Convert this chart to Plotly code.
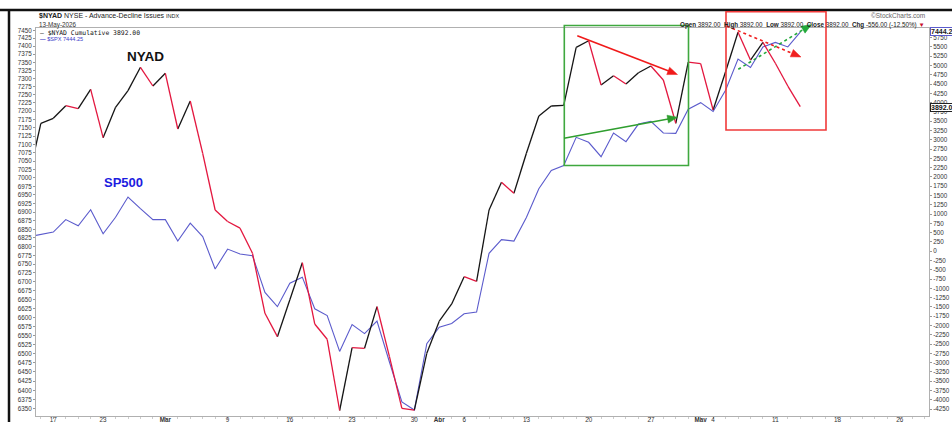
import math
import plotly.graph_objects as go

# ---------------- data ----------------
dates = [
    "2026-02-12", "2026-02-13", "2026-02-17", "2026-02-18", "2026-02-19", "2026-02-20",
    "2026-02-23", "2026-02-24", "2026-02-25", "2026-02-26", "2026-02-27",
    "2026-03-02", "2026-03-03", "2026-03-04", "2026-03-05", "2026-03-06",
    "2026-03-09", "2026-03-10", "2026-03-11", "2026-03-12", "2026-03-13",
    "2026-03-16", "2026-03-17", "2026-03-18", "2026-03-19", "2026-03-20",
    "2026-03-23", "2026-03-24", "2026-03-25", "2026-03-26", "2026-03-27",
    "2026-03-30", "2026-03-31", "2026-04-01", "2026-04-02",
    "2026-04-06", "2026-04-07", "2026-04-08", "2026-04-09", "2026-04-10",
    "2026-04-13", "2026-04-14", "2026-04-15", "2026-04-16", "2026-04-17",
    "2026-04-20", "2026-04-21", "2026-04-22", "2026-04-23", "2026-04-24",
    "2026-04-27", "2026-04-28", "2026-04-29", "2026-04-30", "2026-05-01",
    "2026-05-04", "2026-05-05", "2026-05-06", "2026-05-07", "2026-05-08",
    "2026-05-11", "2026-05-12", "2026-05-13",
]

nyad_cumulative = [
    1950, 3445, 3579, 3919, 3838, 4360,
    3057, 3875, 4323, 4953, 4449,
    4791, 3291, 4045, 2637, 1110,
    800, 620, -56, -1672, -2302,
    -1306, -309, -1960, -2372, -4290,
    -2598, -2615, -1494, -2841, -4230,
    -4280, -2749, -1885, -1421,
    -686, -810, 1110, 1856, 1560,
    2637, 3641, 3911, 3925, 5491,
    5669, 4476, 4727, 4503, 4807,
    4988, 4611, 3445, 5090, 5050,
    3803, 4834, 5895, 5149, 5626,
    5061, 4448, 3892,
]

spx_close = [
    6828, 6835, 6842, 6878, 6860, 6907,
    6837, 6885, 6944, 6910, 6878,
    6878, 6816, 6868, 6829, 6736,
    6793, 6779, 6774, 6670, 6630,
    6696, 6713, 6624, 6605, 6506,
    6580, 6555, 6590, 6477, 6369,
    6347, 6527, 6573, 6583,
    6610, 6615, 6781, 6820, 6816,
    6884, 6968, 7022, 7037, 7121,
    7106, 7063, 7134, 7108, 7161,
    7169, 7134, 7133, 7206, 7226,
    7199, 7264, 7360, 7334, 7398,
    7412, 7398, 7444.25,
]

tick_dates = ["2026-02-17", "2026-02-23", "2026-03-02", "2026-03-09", "2026-03-16",
              "2026-03-23", "2026-03-30", "2026-04-01", "2026-04-06", "2026-04-13",
              "2026-04-20", "2026-04-27", "2026-05-01", "2026-05-04", "2026-05-11",
              "2026-05-18", "2026-05-26"]
tick_text = ["17", "23", "<b>Mar</b>", "9", "16", "23", "30", "<b>Apr</b>", "6", "13",
             "20", "27", "<b>May</b>", "4", "11", "18", "26"]
holidays = ["2026-02-16", "2026-04-03", "2026-05-25"]
spx_ticks = list(range(6350, 7451, 25))
nyad_ticks = list(range(-4250, 5751, 250))

# ---------------- styling ----------------
W, H = 952, 422
L, R, T, B = 36, 929, 28, 416
BLACK = "#151515"
RED = "#e3173f"
BLUE = "#5b5bcc"
FONT = "Liberation Sans, Arial, sans-serif"


def px(x):
    return (x - L) / (R - L)


def py(y):
    return (B - y) / (B - T)


# NYAD: split into up (black) and down (red) segments
up_x, up_y, dn_x, dn_y = [], [], [], []
for k in range(len(dates) - 1):
    if nyad_cumulative[k + 1] >= nyad_cumulative[k]:
        up_x += [dates[k], dates[k + 1], None]
        up_y += [nyad_cumulative[k], nyad_cumulative[k + 1], None]
    else:
        dn_x += [dates[k], dates[k + 1], None]
        dn_y += [nyad_cumulative[k], nyad_cumulative[k + 1], None]

fig = go.Figure()
fig.add_trace(go.Scatter(x=dates, y=spx_close, mode="lines", name="$SPX",
                         line=dict(color=BLUE, width=1.1), yaxis="y",
                         showlegend=False))
fig.add_trace(go.Scatter(x=up_x, y=up_y, mode="lines", name="$NYAD up",
                         line=dict(color=BLACK, width=1.3), yaxis="y2",
                         connectgaps=False, showlegend=False))
fig.add_trace(go.Scatter(x=dn_x, y=dn_y, mode="lines", name="$NYAD down",
                         line=dict(color=RED, width=1.3), yaxis="y2",
                         connectgaps=False, showlegend=False))

shapes = []
# outer screenshot frame lines
shapes.append(dict(type="line", xref="paper", yref="paper", x0=px(0), x1=px(W),
                   y0=py(10), y1=py(10), line=dict(color="#111", width=2.5)))
shapes.append(dict(type="line", xref="paper", yref="paper", x0=px(9), x1=px(9),
                   y0=py(10), y1=py(H + 2), line=dict(color="#111", width=2.5)))
# annotation boxes
shapes.append(dict(type="rect", xref="paper", yref="paper", x0=px(564.3), x1=px(688.5),
                   y0=py(165.5), y1=py(25.5), line=dict(color="#3fa83f", width=1.6)))
shapes.append(dict(type="rect", xref="paper", yref="paper", x0=px(726), x1=px(826),
                   y0=py(130), y1=py(11.7), line=dict(color="#f03a3a", width=1.6)))


def arrow(tail, tip, color, dash="solid", hl=10.0, hw=8.0, width=1.6):
    dx, dy = tip[0] - tail[0], tip[1] - tail[1]
    n = math.hypot(dx, dy)
    ux, uy = dx / n, dy / n
    bx, by = tip[0] - ux * hl, tip[1] - uy * hl
    shapes.append(dict(type="line", xref="paper", yref="paper",
                       x0=px(tail[0]), y0=py(tail[1]), x1=px(bx + ux * 2), y1=py(by + uy * 2),
                       line=dict(color=color, width=width, dash=dash)))
    p1 = (bx - uy * hw / 2, by + ux * hw / 2)
    p2 = (bx + uy * hw / 2, by - ux * hw / 2)
    path = "M {:.5f},{:.5f} L {:.5f},{:.5f} L {:.5f},{:.5f} Z".format(
        px(tip[0]), py(tip[1]), px(p1[0]), py(p1[1]), px(p2[0]), py(p2[1]))
    shapes.append(dict(type="path", xref="paper", yref="paper", path=path,
                       fillcolor=color, line=dict(color=color, width=0.5)))


arrow((577.3, 35.7), (677.5, 74.5), "#f01a1a")
arrow((564.0, 138.3), (677.5, 117.3), "#2f9e2f")
arrow((726.7, 26.0), (801.0, 57.0), "#f02020", dash="dot")
arrow((738.3, 69.3), (811.5, 24.5), "#22a83a", dash="dot")

ann = []


def text(x, y, s, size, color="#222", xanchor="left", family=FONT, **kw):
    ann.append(dict(x=px(x), y=py(y), xref="paper", yref="paper", text=s,
                    showarrow=False, xanchor=xanchor, yanchor="middle",
                    font=dict(size=size, color=color, family=family), **kw))


text(37, 16, "<b>$NYAD</b> NYSE - Advance-Decline Issues <span style='font-size:5.5px'>INDX</span>", 7, "#222")
text(37, 24.7, "13-May-2026", 6.3, "#333")
text(37.5, 32.7, "— $NYAD Cumulative 3892.00", 6.4, "#111", family="DejaVu Sans Mono, monospace")
text(37.5, 38.7, "<b>—</b> $SPX 7444.25", 5.6, "#3c3cc8")
text(145.7, 56.7, "<b>NYAD</b>", 13.5, "#111", xanchor="center", family="Liberation Sans, Arial")
text(123.3, 182.7, "<b>SP500</b>", 13, "#1c1ce0", xanchor="center", family="Liberation Sans, Arial")
text(927, 24.6, "<b>Open</b> 3892.00  <b>High</b> 3892.00  <b>Low</b> 3892.00  <b>Close</b> 3892.00  "
     "<b>Chg</b> -556.00 (-12.50%) <span style='color:#c8102e'>▼</span>", 6.3, "#222", xanchor="right")
text(927, 15.7, "©StockCharts.com", 6.5, "#666", xanchor="right")
text(929.5, 32.0, "<b>7444.25</b>", 7, "#222", bgcolor="white", bordercolor=BLUE,
     borderwidth=1, borderpad=0)
text(929.5, 107.5, "<b>3892.00</b>", 7, "#111", bgcolor="white", bordercolor="#222",
     borderwidth=1, borderpad=0)

fig.update_layout(
    width=W, height=H,
    margin=dict(l=L, r=W - R, t=T, b=H - B, pad=0),
    paper_bgcolor="white", plot_bgcolor="white",
    font=dict(family=FONT, size=6.5, color="#333"),
    showlegend=False,
    shapes=shapes,
    annotations=ann,
    xaxis=dict(
        type="date",
        range=["2026-02-12 14:38", "2026-05-28 08:10"],
        rangebreaks=[dict(bounds=["sat", "mon"]), dict(values=holidays)],
        tickmode="array", tickvals=tick_dates, ticktext=tick_text,
        tickfont=dict(size=6.3, color="#333"),
        ticks="outside", ticklen=2, tickcolor="#aaa",
        ticklabelstandoff=-5,
        minor=dict(ticks="outside", ticklen=2, tickcolor="#cccccc",
                   dtick=86400000, showgrid=False),
        showline=True, linecolor="#b0b0b0", linewidth=1, mirror=True,
        showgrid=False, zeroline=False, automargin=False,
    ),
    yaxis=dict(
        type="log",
        range=[3.801476, 3.872577],
        tickmode="array", tickvals=spx_ticks, ticktext=[str(v) for v in spx_ticks],
        tickfont=dict(size=6.3, color="#333"),
        ticks="outside", ticklen=2, tickcolor="#999",
        showline=True, linecolor="#b0b0b0", linewidth=1,
        showgrid=False, zeroline=False, automargin=False, side="left",
    ),
    yaxis2=dict(
        overlaying="y", side="right",
        range=[-4438, 6011],
        tickmode="array", tickvals=nyad_ticks, ticktext=[str(v) for v in nyad_ticks],
        tickfont=dict(size=6.3, color="#333"),
        ticks="outside", ticklen=2, tickcolor="#999",
        showline=True, linecolor="#b0b0b0", linewidth=1,
        showgrid=False, zeroline=False, automargin=False,
    ),
)

fig.write_html(
    "out.html",
    config={"displayModeBar": False},
    post_script="document.body.style.margin='0px';document.body.style.overflow='hidden';",
)
